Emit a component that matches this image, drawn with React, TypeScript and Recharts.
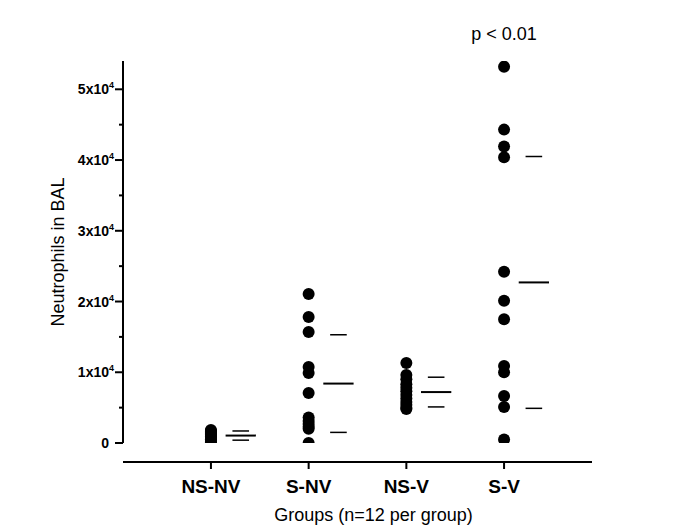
import React from 'react';
import { ScatterChart, Scatter, XAxis, YAxis, ReferenceLine, ReferenceDot } from 'recharts';

const groups = ['NS-NV', 'S-NV', 'NS-V', 'S-V'];

// neutrophil counts, 12 animals per group
const nsNv = [1850, 1700, 1600, 1450, 1300, 1150, 1000, 900, 700, 500, 300, 100];
const sNv = [21070, 17820, 15700, 10750, 9900, 7070, 3600, 3100, 2700, 2300, 2000, 0];
const nsV = [11300, 9600, 9000, 8300, 7800, 7300, 6800, 6300, 5800, 5400, 5000, 4800];
const sV = [53200, 44300, 41900, 40400, 24200, 20100, 17500, 10900, 10000, 6650, 5100, 500];

const means = [1050, 8400, 7200, 22700];
const sds = [650, 6900, 2100, 17800];

const yTicks = [0, 5000, 10000, 15000, 20000, 25000, 30000, 35000, 40000, 45000, 50000];
const yTickMantissa = ['0', '1x10', '2x10', '3x10', '4x10', '5x10'];

const font = '"Liberation Sans", Arial, sans-serif';

const points = [nsNv, sNv, nsV, sV].flatMap((vals, i) => vals.map(v => ({ x: i + 1, y: v })));

const YTick = (props: any) => {
  const { x, y, payload } = props;
  const v = payload.value;
  const major = v % 10000 === 0;
  const k = v / 10000;
  return (
    <g>
      <line x1={x - (major ? 8 : 4)} x2={x} y1={y} y2={y} stroke="#000" strokeWidth={2} />
      {major && (
        <text x={x - 14} y={y + 5} textAnchor="end" fontFamily={font} fontWeight="bold" fontSize={14} fill="#000">
          {yTickMantissa[k]}
        </text>
      )}
      {major && k > 0 && (
        <text x={x - 14} y={y - 1} textAnchor="start" fontFamily={font} fontWeight="bold" fontSize={9} fill="#000">
          4
        </text>
      )}
    </g>
  );
};

const XTick = (props: any) => {
  const { x, y, payload } = props;
  return (
    <g>
      <line x1={x} x2={x} y1={y + 19} y2={y + 26} stroke="#000" strokeWidth={2} />
      <text x={x} y={y + 50} textAnchor="middle" fontFamily={font} fontWeight="bold" fontSize={19} fill="#000">
        {groups[payload.value - 1]}
      </text>
    </g>
  );
};

const Dot = (props: any) => <circle cx={props.cx} cy={props.cy} r={6} fill="#000" />;

export default function App() {
  return (
    <div style={{ position: 'absolute', left: 0, top: 0, background: '#fff' }}>
      <ScatterChart width={685} height={529} margin={{ top: 61, right: 93, bottom: 0, left: 0 }}>
        <XAxis
          type="number"
          dataKey="x"
          domain={[0.1, 4.9]}
          ticks={[1, 2, 3, 4]}
          height={86}
          tickSize={0}
          tickMargin={0}
          tickLine={false}
          tick={<XTick />}
          axisLine={{ stroke: '#000', strokeWidth: 2, transform: 'translate(0,19)' }}
          label={{ value: 'Groups (n=12 per group)', position: 'insideBottom', offset: 8, dx: 16, fontSize: 18, fontFamily: font, fill: '#000' }}
        />
        <YAxis
          type="number"
          dataKey="y"
          domain={[0, 54000]}
          allowDataOverflow
          ticks={yTicks}
          interval={0}
          width={123}
          tickSize={0}
          tickMargin={0}
          tickLine={false}
          tick={<YTick />}
          axisLine={{ stroke: '#000', strokeWidth: 2 }}
          label={{ value: 'Neutrophils in BAL', angle: -90, position: 'center', dx: -4, fontSize: 18, fontFamily: font, fill: '#000' }}
        />
        <Scatter data={points} shape={<Dot />} isAnimationActive={false} />
        {means.map((m, i) => (
          <ReferenceLine
            key={'m' + i}
            segment={[{ x: i + 1.15, y: m }, { x: i + 1.46, y: m }]}
            stroke="#000"
            strokeWidth={2}
            ifOverflow="visible"
          />
        ))}
        {means.map((m, i) => (
          <ReferenceLine
            key={'u' + i}
            segment={[{ x: i + 1.22, y: m + sds[i] }, { x: i + 1.39, y: m + sds[i] }]}
            stroke="#000"
            strokeWidth={1.5}
            ifOverflow="visible"
          />
        ))}
        {means.map((m, i) => (
          <ReferenceLine
            key={'l' + i}
            segment={[{ x: i + 1.22, y: m - sds[i] }, { x: i + 1.39, y: m - sds[i] }]}
            stroke="#000"
            strokeWidth={1.5}
            ifOverflow="visible"
          />
        ))}
        <ReferenceDot
          x={4}
          y={54000}
          r={0}
          ifOverflow="visible"
          label={{ value: 'p < 0.01', position: 'top', offset: 21, fontSize: 18, fontFamily: font, fill: '#000' }}
        />
      </ScatterChart>
    </div>
  );
}
